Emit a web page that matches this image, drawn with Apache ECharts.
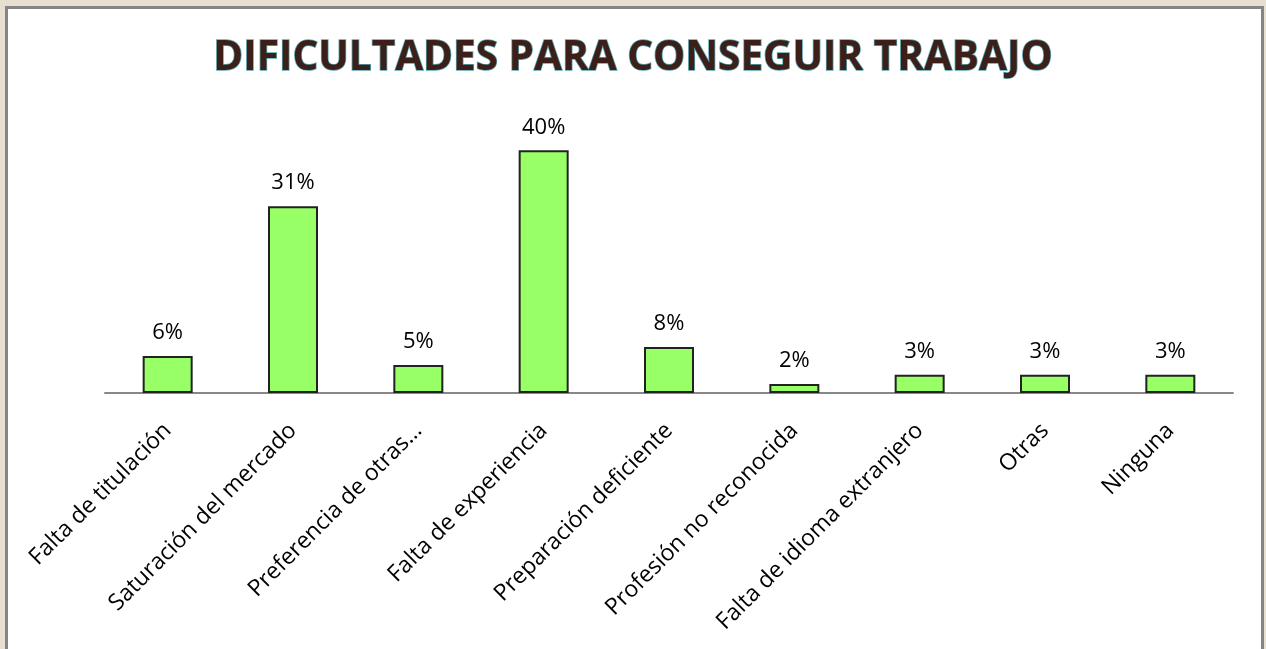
<!DOCTYPE html>
<html>
<head>
<meta charset="utf-8">
<script src="https://cdn.jsdelivr.net/npm/echarts@6/dist/echarts.min.js"></script>
<style>
  html, body { margin: 0; padding: 0; width: 1266px; height: 649px; overflow: hidden; background: #e7e0d1; }
  #panel { position: absolute; left: 5px; top: 6px; width: 1253px; height: 700px; background: #fff; border: 3px solid #858585; }
  #main { position: absolute; left: 0; top: 0; width: 1266px; height: 649px; }
</style>
</head>
<body>
<div id="panel"></div>
<div id="main"></div>
<script>
// categorias y valores (%)
var categorias = ['Falta de titulación', 'Saturación del mercado', 'Preferencia de otras…', 'Falta de experiencia',
  'Preparación deficiente', 'Profesión no reconocida', 'Falta de idioma extranjero', 'Otras', 'Ninguna'];
var valores = [6.1, 30.8, 4.6, 40, 7.6, 1.5, 3.0, 3.0, 3.0];
var titulo = 'DIFICULTADES PARA CONSEGUIR TRABAJO';

var myChart = echarts.init(document.getElementById('main'));
var option = {
  backgroundColor: 'transparent',
  title: {
    text: titulo,
    left: 'center',
    top: 33,
    textStyle: {
      fontFamily: 'Open Sans',
      fontWeight: 'bold',
      fontSize: 40.5,
      color: '#3b1f18',
      textBorderColor: '#5aaab5',
      textBorderWidth: 1.5
    }
  },
  grid: { left: 105, right: 33, top: 120, bottom: 256 },
  xAxis: {
    type: 'category',
    data: categorias,
    axisLine: { lineStyle: { color: '#888888', width: 2 } },
    axisTick: { show: false },
    axisLabel: {
      interval: 0,
      rotate: 45,
      margin: 34,
      fontFamily: 'Open Sans',
      fontSize: 23,
      color: '#000'
    }
  },
  yAxis: {
    type: 'value',
    min: 0,
    max: 45,
    show: false
  },
  series: [{
    type: 'bar',
    data: valores,
    barWidth: 50,
    itemStyle: { color: '#99ff66', borderColor: '#222222', borderWidth: 2 },
    label: {
      show: true,
      position: 'top',
      distance: 12,
      fontFamily: 'Open Sans',
      fontSize: 22,
      color: '#000',
      formatter: function (p) { return Math.round(p.value) + '%'; }
    }
  }]
};
myChart.setOption(option);
</script>
</body>
</html>
